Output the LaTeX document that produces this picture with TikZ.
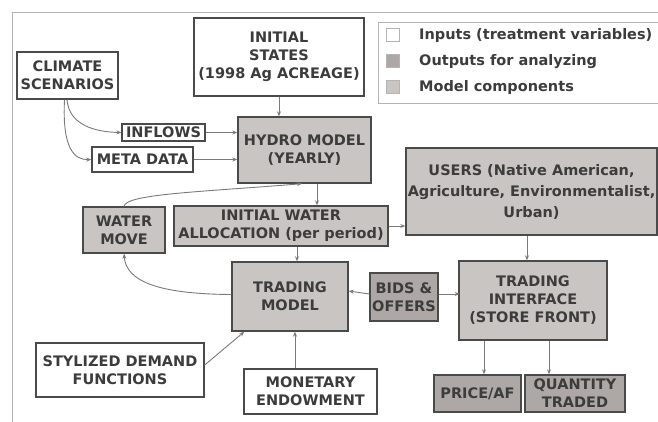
\documentclass[tikz,border=0pt]{standalone}
\usepackage{fontspec}
\setmainfont{DejaVu Sans}
\usetikzlibrary{calc,arrows.meta}
\definecolor{ink}{HTML}{3C3C3C}
\definecolor{edge}{HTML}{4A4A4A}
\definecolor{wire}{HTML}{7A7A7A}
\definecolor{modelfill}{HTML}{C9C5C2}
\definecolor{outfill}{HTML}{ADA8A5}
\definecolor{frameline}{HTML}{B4B4B4}
\begin{document}
\begin{tikzpicture}[x=1pt,y=-1pt,
  box/.style={draw=edge, line width=1.4pt, text=ink, align=center, inner sep=0pt,
    font=\fontsize{14.5}{18}\selectfont\bfseries},
  inbox/.style={box, fill=white},
  modelbox/.style={box, fill=modelfill},
  outbox/.style={box, fill=outfill},
  sz/.style 2 args={minimum width=#1, minimum height=#2},
  arr/.style={draw=wire, line width=0.9pt, -{Stealth[length=5pt,width=4pt]}},
  keybox/.style={draw=frameline, line width=0.8pt, minimum size=13pt, inner sep=0pt},
  keytext/.style={anchor=west, text=ink, inner sep=0pt,
    font=\fontsize{14.5}{18}\selectfont\bfseries}]
\useasboundingbox (0,0) rectangle (658,422);
\fill[white] (0,0) rectangle (658,422);

% outer frame
\draw[frameline, line width=0.8pt] (12,422) -- (12,12) -- (658,12);

% legend
\node[draw=frameline, line width=0.8pt, fill=white, sz={290}{81}, anchor=north west] (legend) at (378,22) {};
\node[keybox, fill=white] (keyin) at (393,35) {};
\node[keybox, fill=outfill] (keyout) at (393,61) {};
\node[keybox, fill=modelfill] (keymodel) at (393,87) {};
\node[keytext] (keyintext) at (419,36) {Inputs (treatment variables)};
\node[keytext] (keyouttext) at (419,62) {Outputs for analyzing};
\node[keytext] (keymodeltext) at (419,88) {Model components};

% inputs
\node[inbox, sz={101}{47}] (climate) at (67.5,75.5) {CLIMATE\\SCENARIOS};
\node[inbox, sz={170}{78}] (states) at (279,57) {INITIAL\\STATES\\(1998 Ag ACREAGE)};
\node[inbox, sz={83}{17}, line width=1.2pt] (inflows) at (163.5,132.5) {INFLOWS};
\node[inbox, sz={101}{25}] (meta) at (142.5,159.5) {META DATA};
\node[inbox, sz={168}{54}] (demand) at (120,370) {STYLIZED DEMAND\\FUNCTIONS};
\node[inbox, sz={133}{45}] (money) at (310.5,391.5) {MONETARY\\ENDOWMENT};

% model components
\node[modelbox, sz={133}{66}] (hydro) at (304.5,150) {HYDRO MODEL\\(YEARLY)};
\node[modelbox, sz={251}{87}, font=\fontsize{14.5}{21}\selectfont\bfseries] (users) at (531.5,191.5) {USERS (Native American,\\Agriculture, Environmentalist,\\Urban)};
\node[modelbox, sz={214}{40}] (alloc) at (281,226) {INITIAL WATER\\ALLOCATION (per period)};
\node[modelbox, sz={82}{46}] (move) at (124,230) {WATER\\MOVE};
\node[modelbox, sz={116}{69}] (trade) at (290,296.5) {TRADING\\MODEL};
\node[modelbox, sz={148}{79}] (iface) at (533,300.5) {TRADING\\INTERFACE\\(STORE FRONT)};

% outputs
\node[outbox, sz={68}{48}] (bids) at (404,297) {BIDS \&\\OFFERS};
\node[outbox, sz={87}{37}] (price) at (477.5,393.5) {PRICE/AF};
\node[outbox, sz={100}{37}] (qty) at (575,393.5) {QUANTITY\\TRADED};

% connectors
\draw[arr] (states.south) -- (states.south |- hydro.north);
\draw[arr] ($(climate.south)+(-0.5,0)$) .. controls (69,125) and (95,132) .. (inflows.west);
\draw[arr] ($(climate.south)+(-3,0)$) .. controls (62,150) and (75,160) .. (meta.west);
\draw[arr] (inflows.east) -- (inflows.east -| hydro.west);
\draw[arr] (meta.east) -- (meta.east -| hydro.west);
\draw[arr] ($(hydro.south)+(12.5,0)$) -- ($(alloc.north)+(36,0)$);
\draw[arr] (move.north) .. controls (126,194) and (200,192) .. ($(hydro.south)+(-2.5,0)$);
\draw[arr] (alloc.east) -- (alloc.east -| users.west);
\draw[arr] ($(alloc.south)+(16,0)$) -- ($(trade.north)+(7,0)$);
\draw[arr] ($(trade.west)+(0,-2)$) .. controls (160,294) and (126,282) .. (move.south);
\draw[arr] ($(demand.east)+(0,-5)$) -- ($(trade.south west)+(13,0)$);
\draw[arr] ($(money.north)+(-15.5,0)$) -- ($(trade.south)+(5,0)$);
\draw[arr] ($(bids.west)+(0,-3)$) -- ($(trade.east)+(0,-5.5)$);
\draw[arr] ($(bids.east)+(0,-3)$) -- ($(bids.east)+(21,-3)$);
\draw[arr] ($(users.south)+(-4.5,0)$) -- ($(iface.north)+(-6,0)$);
\draw[arr] ($(iface.south)+(-49,0)$) -- ($(price.north)+(6.5,0)$);
\draw[arr] ($(iface.south)+(16,0)$) -- ($(qty.north)+(-26,0)$);
\end{tikzpicture}
\end{document}
